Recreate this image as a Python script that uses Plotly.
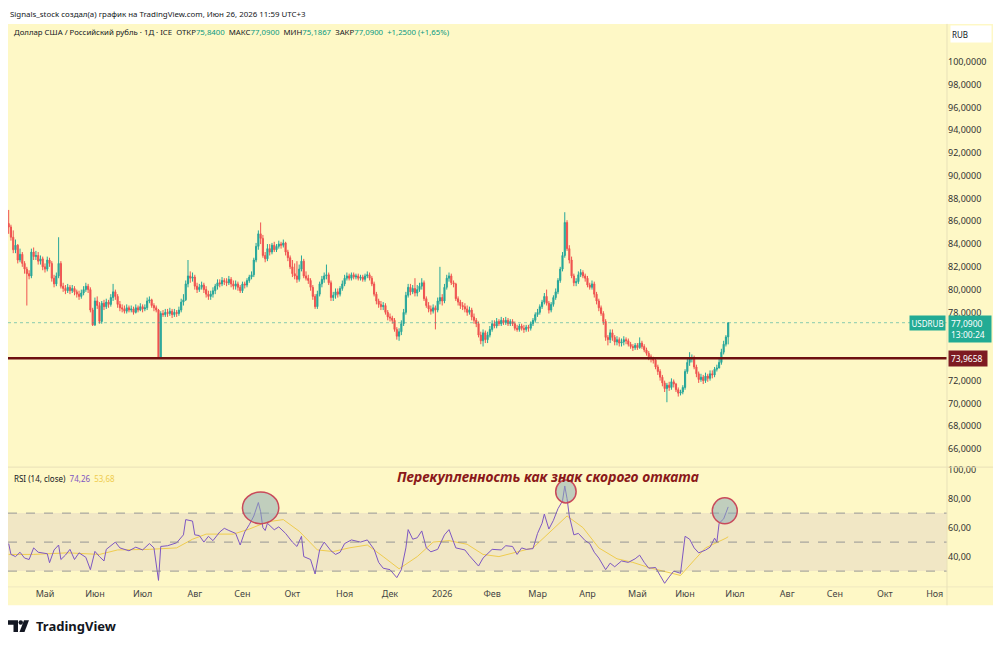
import pandas as pd
import plotly.graph_objects as go

# ---------------- DATA ----------------
START = "2025-04-09"   # first visible daily bar (weekdays)
first_open = 85.8

close = [
    85.5, 84.6, 83.5, 83.9, 82.6, 83.1, 82.3, 81.8, 81.4, 81.2,
    83.3, 82.9, 83.0, 82.5, 82.7, 82.0, 81.8, 82.6, 82.3, 81.0,
    80.5, 81.2, 82.3, 80.3, 80.1, 79.9, 80.2, 79.9, 80.1, 79.8,
    79.6, 79.4, 79.7, 80.0, 80.3, 80.0, 78.2, 76.9, 79.0, 78.6,
    77.2, 78.8, 78.5, 78.9, 78.7, 79.3, 79.8, 79.4, 78.7, 78.4,
    78.3, 78.1, 78.4, 78.2, 78.3, 78.0, 78.4, 78.2, 78.5, 78.3,
    78.4, 79.0, 79.1, 78.6, 78.4, 78.2, 74.0, 77.9, 77.8, 78.0,
    77.9, 78.1, 77.8, 78.0, 77.9, 78.2, 78.9, 79.1, 80.5, 81.2,
    81.0, 81.1, 80.3, 80.0, 80.2, 80.4, 80.0, 79.6, 79.4, 79.6,
    79.9, 80.3, 80.6, 80.5, 80.8, 80.7, 80.6, 80.9, 80.5, 80.3,
    80.5, 80.2, 79.9, 80.5, 80.4, 80.8, 81.1, 81.3, 82.6, 83.8,
    84.9, 84.5, 83.0, 82.7, 83.6, 83.3, 83.9, 83.5, 83.8, 84.0,
    83.9, 84.1, 83.3, 82.8, 82.0, 81.4, 81.2, 80.9, 81.8, 82.5,
    81.2, 81.0, 80.8, 80.2, 79.4, 78.5, 79.6, 80.5, 80.9, 81.2,
    81.3, 80.6, 79.3, 79.5, 79.8, 79.6, 80.1, 80.5, 81.0, 81.2,
    81.0, 81.3, 81.1, 81.2, 81.0, 81.1, 80.9, 81.2, 81.3, 81.0,
    80.5, 79.6, 79.0, 78.7, 78.5, 78.6, 78.0, 77.6, 77.5, 77.3,
    76.5, 75.9, 76.3, 77.0, 78.0, 79.5, 80.2, 79.8, 80.1, 79.7,
    80.0, 80.3, 80.6, 79.2, 78.6, 78.3, 78.1, 78.4, 78.2, 79.0,
    79.3, 79.0, 80.2, 81.0, 81.2, 80.6, 80.5, 79.2, 78.9, 78.6,
    78.5, 78.3, 78.0, 78.2, 77.6, 77.3, 77.0, 76.0, 75.5, 76.2,
    75.6, 76.0, 76.5, 77.0, 76.8, 77.2, 77.0, 77.3, 77.1, 77.3,
    77.0, 77.2, 77.0, 76.6, 76.5, 76.8, 76.6, 76.5, 76.7, 76.6,
    77.0, 77.3, 77.8, 78.0, 78.5, 78.9, 79.4, 78.8, 78.2, 78.7,
    79.3, 79.8, 80.8, 81.8, 83.0, 85.9, 83.6, 82.6, 81.2, 80.6,
    80.7, 81.3, 81.5, 81.2, 81.0, 80.4, 80.2, 80.5, 79.6, 79.0,
    78.4, 77.9, 77.2, 75.8, 75.6, 76.2, 75.8, 75.4, 75.6, 75.3,
    75.4, 75.6, 75.5, 75.2, 75.0, 74.9, 75.1, 74.9, 75.3, 75.0,
    74.7, 74.4, 74.1, 73.9, 73.8, 73.2, 72.8, 72.3, 71.8, 71.3,
    71.6, 71.4, 71.9, 71.7, 71.2, 70.9, 71.0, 71.4, 72.8, 73.6,
    73.9, 74.0, 73.2, 72.6, 72.1, 72.3, 72.0, 72.4, 72.2, 72.6,
    72.5, 73.0, 73.1, 73.6, 74.5, 75.2, 75.84, 77.09,
]

high = [
    87.0, 85.7, 85.2, 84.4, 84.0, 83.6, 83.3, 82.5, 82.0, 81.7,
    83.6, 83.7, 83.4, 83.3, 83.0, 82.9, 82.3, 82.9, 82.8, 82.5,
    81.3, 81.5, 84.6, 82.5, 80.6, 80.4, 80.5, 80.4, 80.4, 80.3,
    80.0, 79.9, 80.0, 80.3, 80.6, 80.5, 80.2, 78.4, 79.3, 79.4,
    78.9, 79.0, 79.1, 79.2, 79.1, 79.6, 80.5, 80.0, 79.6, 79.0,
    78.7, 78.6, 78.7, 78.6, 78.6, 78.5, 78.7, 78.6, 78.8, 78.7,
    78.7, 79.3, 79.4, 79.2, 78.8, 78.6, 78.3, 78.1, 78.2, 78.3,
    78.3, 78.4, 78.3, 78.3, 78.2, 78.5, 79.2, 79.6, 80.8, 82.6,
    81.6, 81.5, 81.3, 80.6, 80.5, 80.7, 80.6, 80.3, 79.9, 79.9,
    80.2, 80.5, 80.9, 80.9, 81.1, 81.0, 81.0, 81.2, 81.1, 80.8,
    80.8, 80.7, 80.4, 80.7, 80.7, 81.0, 81.3, 81.6, 82.8, 84.1,
    85.2, 85.9, 84.8, 83.3, 84.0, 84.0, 84.1, 84.2, 84.0, 84.3,
    84.2, 84.4, 84.2, 83.5, 83.0, 82.6, 82.3, 82.5, 82.2, 83.0,
    82.7, 81.6, 81.3, 81.0, 80.4, 79.6, 79.9, 80.7, 81.2, 81.5,
    82.2, 81.5, 80.8, 79.8, 80.1, 80.1, 80.3, 80.8, 81.3, 81.5,
    81.4, 81.5, 81.5, 81.4, 81.4, 81.3, 81.3, 81.4, 81.6, 81.5,
    81.2, 80.7, 79.8, 79.2, 79.0, 78.9, 78.8, 78.2, 77.9, 77.7,
    77.5, 76.7, 76.6, 77.3, 78.3, 79.8, 80.5, 80.5, 80.4, 81.0,
    80.4, 80.6, 81.0, 80.8, 79.4, 78.9, 78.6, 78.7, 78.6, 79.3,
    82.0, 79.6, 80.5, 81.3, 81.5, 81.4, 80.8, 80.6, 79.4, 79.1,
    78.9, 78.8, 78.6, 78.5, 78.4, 77.9, 77.5, 77.2, 76.3, 76.5,
    76.4, 76.3, 76.8, 77.3, 77.3, 77.5, 77.4, 77.6, 77.5, 77.6,
    77.5, 77.4, 77.4, 77.2, 76.9, 77.0, 77.0, 76.9, 76.9, 76.9,
    77.2, 77.5, 78.0, 78.3, 78.7, 79.1, 79.7, 80.0, 79.0, 78.9,
    79.5, 80.1, 81.0, 82.0, 83.3, 86.8, 86.1, 83.9, 82.9, 81.4,
    81.0, 81.6, 81.8, 81.7, 81.4, 81.2, 80.6, 80.8, 80.7, 79.8,
    79.2, 78.6, 78.1, 77.4, 76.0, 76.5, 76.5, 76.0, 75.9, 75.8,
    75.7, 75.9, 75.8, 75.7, 75.4, 75.2, 75.3, 75.3, 75.8, 75.5,
    75.2, 74.9, 74.6, 74.3, 74.1, 74.0, 73.4, 73.0, 72.5, 72.0,
    71.8, 71.9, 72.2, 72.1, 71.8, 71.4, 71.2, 71.6, 73.0, 73.9,
    74.5, 74.3, 74.2, 73.4, 72.8, 72.6, 72.5, 72.7, 72.6, 72.9,
    72.9, 73.2, 73.4, 73.9, 74.8, 75.5, 76.0, 77.09,
]

low = [
    84.9, 84.3, 83.2, 83.2, 82.3, 82.4, 82.0, 81.4, 78.6, 80.9,
    81.0, 82.6, 82.6, 82.2, 82.2, 81.7, 81.5, 81.6, 82.0, 80.7,
    80.2, 80.3, 81.0, 80.1, 79.8, 79.6, 79.7, 79.6, 79.7, 79.5,
    79.3, 79.1, 79.2, 79.5, 79.8, 79.7, 78.0, 76.8, 76.8, 78.3,
    77.0, 77.0, 78.2, 78.3, 78.4, 78.5, 79.0, 79.1, 78.4, 78.1,
    78.0, 77.9, 77.9, 78.0, 78.0, 77.8, 77.9, 78.0, 78.1, 78.0,
    78.1, 78.2, 78.8, 78.4, 78.1, 78.0, 73.9, 73.9, 77.6, 77.6,
    77.6, 77.7, 77.5, 77.6, 77.6, 77.7, 78.0, 78.6, 79.0, 80.2,
    80.6, 80.7, 80.0, 79.7, 79.8, 80.0, 79.7, 79.3, 79.1, 79.1,
    79.3, 79.6, 80.0, 80.2, 80.3, 80.4, 80.3, 80.4, 80.2, 80.0,
    80.0, 79.9, 79.7, 79.7, 80.1, 80.2, 80.6, 80.9, 81.1, 82.4,
    83.5, 84.0, 82.8, 82.4, 82.5, 83.0, 83.1, 83.3, 83.3, 83.6,
    83.6, 83.7, 83.0, 82.5, 81.8, 81.1, 80.9, 80.6, 80.7, 81.6,
    81.0, 80.8, 80.5, 79.9, 79.1, 78.3, 78.3, 79.4, 80.2, 80.6,
    80.9, 80.4, 79.0, 79.0, 79.2, 79.3, 79.4, 79.9, 80.3, 80.8,
    80.8, 80.8, 80.9, 80.9, 80.8, 80.8, 80.7, 80.7, 81.0, 80.8,
    80.3, 79.4, 78.7, 78.4, 78.2, 78.2, 77.8, 77.3, 77.2, 77.0,
    76.3, 75.6, 75.5, 76.0, 76.8, 77.8, 79.3, 79.5, 79.6, 79.4,
    79.4, 79.8, 80.0, 79.0, 78.4, 78.0, 77.8, 77.9, 76.5, 78.0,
    78.7, 78.6, 78.8, 80.0, 80.7, 80.4, 80.2, 79.0, 78.6, 78.3,
    78.2, 78.0, 77.7, 77.8, 77.3, 77.0, 76.7, 75.8, 75.2, 75.0,
    75.3, 75.3, 75.8, 76.3, 76.6, 76.6, 76.8, 76.8, 76.9, 76.9,
    76.8, 76.8, 76.8, 76.4, 76.3, 76.3, 76.4, 76.2, 76.3, 76.3,
    76.4, 76.8, 77.1, 77.6, 77.8, 78.3, 78.7, 78.6, 77.9, 78.0,
    78.5, 79.1, 79.6, 80.6, 81.6, 82.8, 83.4, 82.3, 81.0, 80.3,
    80.3, 80.5, 81.1, 81.0, 80.7, 80.2, 80.0, 80.0, 79.3, 78.7,
    78.1, 77.7, 76.9, 75.5, 75.1, 75.3, 75.5, 75.1, 75.1, 75.0,
    75.0, 75.1, 75.2, 75.0, 74.8, 74.6, 74.7, 74.7, 74.8, 74.8,
    74.5, 74.2, 73.8, 73.6, 73.5, 73.0, 72.5, 72.0, 71.5, 71.0,
    70.1, 71.1, 71.2, 71.4, 71.0, 70.6, 70.7, 70.8, 71.2, 72.6,
    73.3, 73.6, 73.0, 72.3, 71.8, 71.9, 71.7, 71.8, 71.9, 72.0,
    72.2, 72.3, 72.8, 73.3, 73.4, 74.3, 75.0, 75.1867,
]

# RSI (14, close): bar index -> value
rsi_k = [0, 1, 3, 5, 7, 9, 11, 13, 17, 18, 20, 22, 23, 25, 27, 29, 31, 34, 36, 38,
         40, 42, 43, 47, 49, 53, 56, 59, 62, 64, 66, 67, 70, 74, 77, 78, 81, 82, 84, 86,
         88, 90, 93, 95, 97, 100, 102, 104, 106, 108, 110, 111, 112, 113, 114, 117, 119, 122, 125, 127,
         129, 130, 133, 135, 137, 139, 142, 144, 146, 148, 151, 153, 155, 158, 161, 163, 165, 168, 171, 173,
         175, 176, 178, 180, 182, 184, 186, 189, 192, 194, 197, 201, 203, 207, 209, 213, 217, 219, 222, 224,
         226, 228, 231, 233, 235, 236, 238, 240, 242, 244, 245, 246, 247, 249, 251, 254, 256, 258, 260, 263,
         265, 267, 270, 273, 276, 278, 280, 282, 285, 287, 289, 291, 293, 296, 298, 300, 302, 304, 307, 309,
         311, 312, 313, 315, 317]
rsi_v = [49, 41.5, 40, 43, 39, 38, 46, 43, 42, 35.8, 44.6, 48, 38, 41, 45, 38, 42.6, 39.5, 31, 43.6,
         40, 37, 45, 50, 46, 44, 46.5, 44.6, 49, 46, 23.6, 47, 47.5, 49.5, 55, 65.5, 64.5, 55, 54.5, 50,
         54, 51, 57, 59.5, 58, 56, 48, 57, 62, 68, 77.3, 71, 60, 58, 63, 58.5, 60.5, 56, 50, 47,
         54, 40, 38, 28, 44.6, 50, 44, 41.5, 43, 49, 51.5, 50.5, 50, 51.5, 45, 36, 32, 31, 25.5, 31,
         46, 58.6, 52, 53, 57.7, 46, 43.3, 45, 55, 58.6, 46, 44.6, 40.6, 33.5, 39, 45, 44.6, 47.5, 47, 41.5,
         46, 45, 45.5, 56, 63, 69.3, 59, 65, 73, 78.4, 88.7, 80, 68, 55, 56, 51, 49, 43, 39, 31,
         35.5, 33, 37, 36, 38.5, 41, 36, 32, 32.5, 27, 21.6, 26, 30, 28.5, 54, 52, 46, 42.6, 44.5, 46.5,
         52.7, 50, 63, 66, 74.26]

# RSI-based moving average (yellow)
ma_k = [0, 11, 26, 40, 48, 62, 74, 81, 87, 99, 106, 114, 121, 128, 136, 143, 150, 158, 165, 172,
        180, 187, 194, 202, 209, 216, 231, 238, 246, 253, 260, 268, 275, 282, 290, 296, 302, 307, 316, 317]
ma_v = [41.5, 41.5, 42.6, 41.5, 44.6, 45, 46, 52, 55.5, 55.5, 59, 64, 65.5, 57.5, 44.6, 43.5, 46, 48, 40, 31.6,
        40, 50, 51, 48.5, 41.5, 40, 46, 56, 68, 60, 46, 38.5, 36, 32.5, 29.3, 27, 37.5, 46, 52.7, 53.68]

level = 73.9658
last_price = 77.09

# highlighted RSI peaks: (bar index from, bar index to, rsi low, rsi high)
ellipses = [(103, 119, 62.7, 84.6), (241, 250, 77.0, 92.8), (310, 321, 62.6, 80.5)]

price_ticks = [66, 68, 70, 72, 74, 76, 78, 80, 82, 84, 86, 88, 90, 92, 94, 96, 98, 100]
price_tick_text = ["66,0000", "68,0000", "70,0000", "72,0000", "", "", "78,0000", "80,0000",
                   "82,0000", "84,0000", "86,0000", "88,0000", "90,0000", "92,0000", "94,0000",
                   "96,0000", "98,0000", "100,0000"]
rsi_ticks = [40, 60, 80, 100]
rsi_tick_text = ["40,00", "60,00", "80,00", "100,00"]
month_ticks = ["2025-05-01", "2025-06-02", "2025-07-01", "2025-08-01", "2025-09-01", "2025-10-01",
               "2025-11-03", "2025-12-01", "2026-01-01", "2026-02-02", "2026-03-02", "2026-04-01",
               "2026-05-01", "2026-06-01", "2026-07-01", "2026-08-03", "2026-09-01", "2026-10-01",
               "2026-11-02"]
month_text = ["Май", "Июн", "Июл", "Авг", "Сен", "Окт", "Ноя", "Дек", "2026", "Фев", "Мар", "Апр",
              "Май", "Июн", "Июл", "Авг", "Сен", "Окт", "Ноя"]

# ---------------- BUILD ----------------
days = pd.bdate_range(START, periods=440)
dates = days[:len(close)]
opens = [first_open] + close[:-1]
highs = [max(h, o, c) for h, o, c in zip(high, opens, close)]
lows = [min(l, o, c) for l, o, c in zip(low, opens, close)]

W, H = 1000, 646
def px(x): return x / W
def py(y): return 1 - y / H

FONT = "Noto Sans"
BG = "#fef8c6"
X0, X1 = px(8), px(947)

fig = go.Figure()
fig.add_trace(go.Candlestick(
    x=dates, open=opens, high=highs, low=lows, close=close,
    increasing=dict(line=dict(color="#26a69a", width=1), fillcolor="#26a69a"),
    decreasing=dict(line=dict(color="#ef5350", width=1), fillcolor="#ef5350"),
    whiskerwidth=0, showlegend=False, hoverinfo="skip", xaxis="x", yaxis="y"))

fig.add_trace(go.Scatter(x=[days[k] for k in ma_k], y=ma_v, mode="lines",
                         line=dict(color="#efcc4e", width=1), showlegend=False,
                         hoverinfo="skip", xaxis="x", yaxis="y2"))
fig.add_trace(go.Scatter(x=[days[k] for k in rsi_k], y=rsi_v, mode="lines",
                         line=dict(color="#7e57c2", width=1), showlegend=False,
                         hoverinfo="skip", xaxis="x", yaxis="y2"))

shapes = [
    dict(type="rect", xref="paper", yref="paper", x0=px(8), x1=px(993), y0=py(605), y1=py(20),
         fillcolor=BG, line=dict(width=0), layer="below"),
    dict(type="rect", xref="paper", yref="y2", x0=X0, x1=X1, y0=30, y1=70,
         fillcolor="rgba(126,87,194,0.10)", line=dict(width=0), layer="below"),
]
for lv in (70, 50, 30):
    shapes.append(dict(type="line", xref="paper", yref="y2", x0=X0, x1=X1, y0=lv, y1=lv,
                       line=dict(color="rgba(120,123,134,0.75)", width=1, dash="dash")))
shapes += [
    dict(type="line", xref="paper", yref="y", x0=X0, x1=X1, y0=last_price, y1=last_price,
         line=dict(color="rgba(38,166,154,0.55)", width=1, dash="dot")),
    dict(type="line", xref="paper", yref="y", x0=X0, x1=X1, y0=level, y1=level,
         line=dict(color="#6e1010", width=2.5)),
    dict(type="line", xref="paper", yref="paper", x0=px(8), x1=px(993), y0=py(466), y1=py(466),
         line=dict(color="#e8e1b8", width=1)),
    dict(type="line", xref="paper", yref="paper", x0=px(8), x1=px(993), y0=py(586.5), y1=py(586.5),
         line=dict(color="#efe8c0", width=1)),
    dict(type="line", xref="paper", yref="paper", x0=px(947), x1=px(947), y0=py(605), y1=py(20),
         line=dict(color="#e8e1b8", width=1)),
]
for k0, k1, r0, r1 in ellipses:
    shapes.append(dict(type="circle", xref="x", yref="y2",
                       x0=days[k0].strftime("%Y-%m-%d"), x1=days[k1].strftime("%Y-%m-%d"),
                       y0=r0, y1=r1, fillcolor="rgba(140,172,182,0.55)",
                       line=dict(color="#c94a5b", width=1.5)))

# TradingView logo (drawn)
def path(pts):
    return "M " + " L ".join(f"{px(a)},{py(b)}" for a, b in pts) + " Z"
shapes += [
    dict(type="path", xref="paper", yref="paper", path=path([(8, 620), (18, 620), (18, 632), (13.5, 632), (13.5, 624.5), (8, 624.5)]),
         fillcolor="#131722", line=dict(width=0)),
    dict(type="circle", xref="paper", yref="paper", x0=px(18.5), x1=px(23), y0=py(624.7), y1=py(620.2),
         fillcolor="#131722", line=dict(width=0)),
    dict(type="path", xref="paper", yref="paper", path=path([(24, 620), (29, 620), (24.5, 632), (19.5, 632)]),
         fillcolor="#131722", line=dict(width=0)),
]

G = "#089981"
annotations = [
    dict(xref="paper", yref="paper", x=px(8), y=py(10), xanchor="left", yanchor="middle",
         text="Signals_stock создал(а) график на TradingView.com, Июн 26, 2026 11:59 UTC+3",
         showarrow=False, font=dict(family=FONT, size=7.9, color="#131722")),
    dict(xref="paper", yref="paper", x=px(12), y=py(28), xanchor="left", yanchor="middle",
         text=("Доллар США / Российский рубль · 1Д · ICE&nbsp;&nbsp;ОТКР"
               f"<span style='color:{G}'>75,8400</span>&nbsp;&nbsp;МАКС<span style='color:{G}'>77,0900</span>"
               f"&nbsp;&nbsp;МИН<span style='color:{G}'>75,1867</span>&nbsp;&nbsp;ЗАКР<span style='color:{G}'>77,0900</span>"
               f"&nbsp;&nbsp;<span style='color:{G}'>+1,2500 (+1,65%)</span>"),
         showarrow=False, font=dict(family=FONT, size=7.8, color="#131722")),
    dict(xref="paper", yref="paper", x=px(12), y=py(477), xanchor="left", yanchor="middle",
         text=("RSI (14, close)&nbsp;&nbsp;<span style='color:#7e57c2'>74,26</span>"
               "&nbsp;&nbsp;<span style='color:#efcc4e'>53,68</span>"),
         showarrow=False, font=dict(family=FONT, size=8, color="#131722")),
    dict(xref="paper", yref="paper", x=px(548), y=py(475), xanchor="center", yanchor="middle",
         text="<b><i>Перекупленность как знак скорого отката</i></b>",
         showarrow=False, font=dict(family=FONT, size=14, color="#8b1a1a")),
    dict(xref="paper", yref="paper", x=px(950), y=py(30), xanchor="left", yanchor="middle",
         text="RUB", width=38, height=14, align="left", bgcolor="#ffffff", borderpad=1,
         showarrow=False, font=dict(family=FONT, size=8, color="#131722")),
    dict(xref="paper", yref="y", x=px(946), y=last_price, xanchor="right", yanchor="middle",
         text="USDRUB", bgcolor="#22ab94", borderpad=1.5,
         showarrow=False, font=dict(family=FONT, size=8, color="#ffffff")),
    dict(xref="paper", yref="y", x=px(947.5), y=last_price, xanchor="left", yanchor="top", yshift=8,
         text="77,0900<br>13:00:24", bgcolor="#22ab94", borderpad=2, align="left", width=38,
         showarrow=False, font=dict(family=FONT, size=8.5, color="#ffffff")),
    dict(xref="paper", yref="y", x=px(947.5), y=level, xanchor="left", yanchor="middle",
         text="73,9658", bgcolor="#7d1a22", borderpad=2, width=34, align="left",
         showarrow=False, font=dict(family=FONT, size=8.5, color="#ffffff")),
    dict(xref="paper", yref="paper", x=px(34), y=py(626), xanchor="left", yanchor="middle",
         text="<b>TradingView</b>", showarrow=False,
         font=dict(family=FONT, size=13, color="#131722")),
]

fig.update_layout(
    width=W, height=H, margin=dict(l=0, r=0, t=0, b=0),
    paper_bgcolor="#ffffff", plot_bgcolor="rgba(0,0,0,0)",
    showlegend=False, shapes=shapes, annotations=annotations,
    font=dict(family=FONT, size=9, color="#333333"),
    xaxis=dict(domain=[X0, X1], anchor="y2", type="date",
               range=["2025-04-08 16:48", "2026-11-09 09:36"],
               rangebreaks=[dict(bounds=["sat", "mon"])],
               rangeslider=dict(visible=False),
               tickmode="array", tickvals=month_ticks, ticktext=month_text,
               ticks="", showgrid=False, zeroline=False, showline=False,
               tickfont=dict(family=FONT, size=9, color="#444444")),
    yaxis=dict(domain=[py(466), py(20)], anchor="x", side="right", range=[64.4, 103.35],
               tickmode="array", tickvals=price_ticks, ticktext=price_tick_text,
               ticks="", showgrid=False, zeroline=False, showline=False,
               tickfont=dict(family=FONT, size=9, color="#333333")),
    yaxis2=dict(domain=[py(586.7), py(466)], anchor="x", side="right", range=[19, 101.7],
                tickmode="array", tickvals=rsi_ticks, ticktext=rsi_tick_text,
                ticks="", showgrid=False, zeroline=False, showline=False,
                tickfont=dict(family=FONT, size=9, color="#333333")),
)

fig.write_html("out.html")
